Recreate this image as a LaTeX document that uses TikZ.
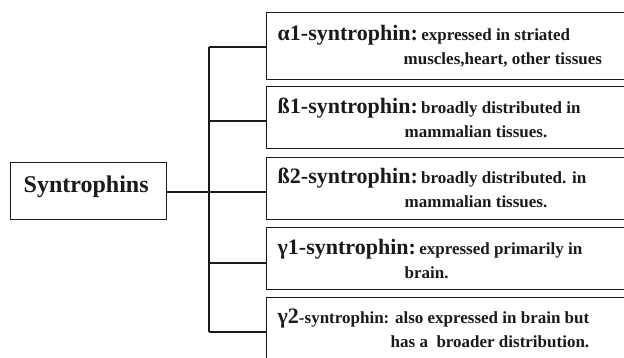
\documentclass[tikz,border=0pt]{standalone}
\usepackage{fontspec}
\setmainfont{Liberation Serif}
\usetikzlibrary{positioning}
\definecolor{ink}{HTML}{1A1A1A}
\newcommand{\syn}[1]{{\fontsize{22}{24}\selectfont\bfseries #1}}
\newcommand{\note}[1]{{\fontsize{17}{19}\selectfont\bfseries #1}}

\begin{document}
\begin{tikzpicture}[x=1pt,y=-1pt,line width=1.4pt,draw=ink,
  kind/.style={draw=ink,minimum width=380pt,minimum height=#1,anchor=north west,inner sep=0pt},
  kind/.default=63pt,
  txt/.style={anchor=base west,inner sep=0pt,text=ink}]
\useasboundingbox (0,0) rectangle (624,357);
\clip (0,0) rectangle (624,357);
\node[draw=ink,anchor=north west,minimum width=156pt,minimum height=57pt,inner sep=0pt] (root) at (10,162) {};
\node[txt] (rootlbl) at (23,192) {{\fontsize{24}{26}\selectfont\bfseries Syntrophins}};
% the five family members
\node[kind=67pt] (a1) at (266,12) {};
\node[kind=62pt] (b1) at (266,86) {};
\node[kind=62pt] (b2) at (266,157) {};
\node[kind=62pt] (g1) at (266,227) {};
\node[kind=80pt] (g2) at (266,297) {};
\node[txt] (a1t) at (277,40) {\syn{α1-syntrophin:} \note{expressed in striated}};
\node[txt] (a1u) at (403,64) {\note{muscles,heart, other tissues}};
\node[txt] (b1t) at (277,113) {\syn{ß1-syntrophin:} \note{broadly distributed in}};
\node[txt] (b1u) at (404,137) {\note{mammalian tissues.}};
\node[txt] (b2t) at (277,183) {\syn{ß2-syntrophin:} \note{broadly distributed. in}};
\node[txt] (b2u) at (404,207) {\note{mammalian tissues.}};
\node[txt] (g1t) at (277,254) {\syn{γ1-syntrophin:} \note{expressed primarily in}};
\node[txt] (g1u) at (404,278) {\note{brain.}};
\node[txt] (g2t) at (277,323) {\syn{γ2}\note{-syntrophin: also expressed in brain but}};
\node[txt] (g2u) at (390,347) {\note{has a \ broader distribution.}};
% tree lines
\coordinate (top) at (209,47);
\coordinate (j2) at (209,121);
\coordinate (mid) at (209,192);
\coordinate (j4) at (209,263);
\coordinate (bot) at (209,332);
\draw (top) -- (bot);
\draw (root.east |- mid) -- (mid) -- (mid -| b2.west);
\draw (top) -- (top -| a1.west);
\draw (j2) -- (j2 -| b1.west);
\draw (j4) -- (j4 -| g1.west);
\draw (bot) -- (bot -| g2.west);
\end{tikzpicture}
\end{document}
